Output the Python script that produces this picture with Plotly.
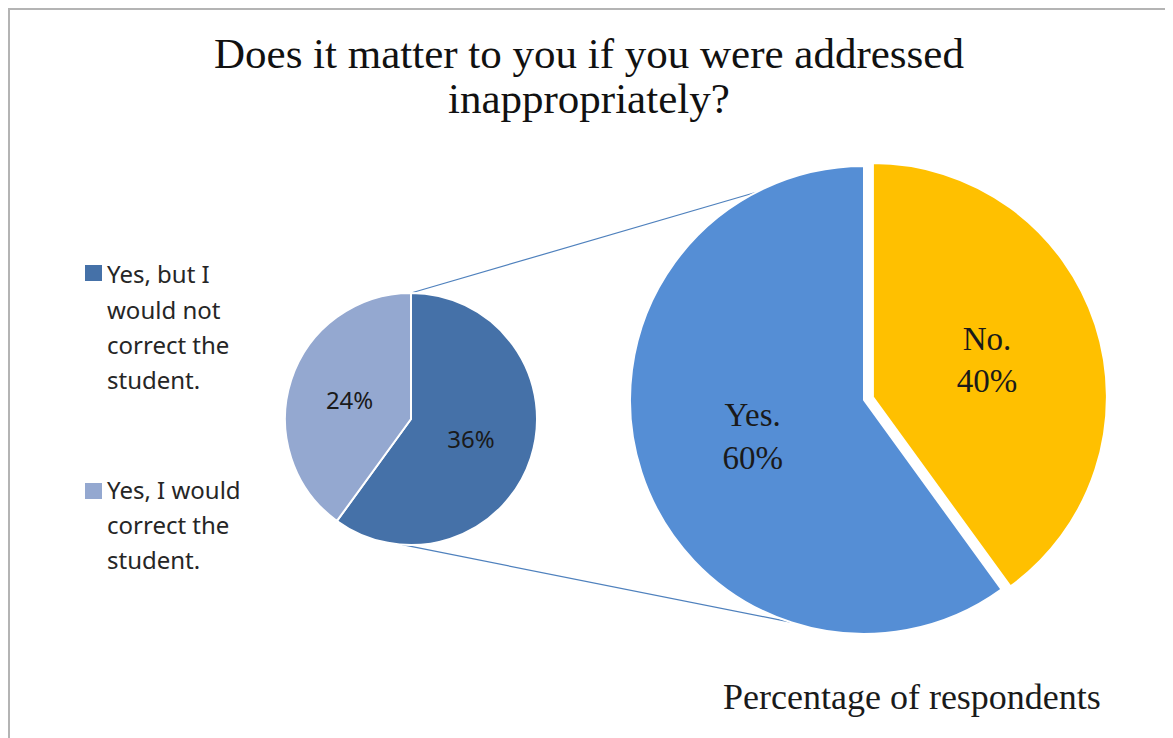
import math
import plotly.graph_objects as go

# page body has an 8px margin: the figure is sized to the visible area and
# every reference pixel position is shifted by that offset
OFF = 8
W, H = 1173 - OFF, 738 - OFF

# ---- data ----
main_labels = ["No.", "Yes."]
main_values = [40, 60]
main_colors = ["#FFC000", "#558ED5"]
main_pull = [0.04, 0]

sub_labels = ["Yes, but I would not correct the student.", "Yes, I would correct the student."]
sub_legend_lines = [["Yes, but I", "would not", "correct the", "student."],
                    ["Yes, I would", "correct the", "student."]]
sub_values = [36, 24]
sub_colors = ["#4571A8", "#94A8D0"]

title_lines = ["Does it matter to you if you were addressed", "inappropriately?"]
footer_text = "Percentage of respondents"

# ---- layout geometry (reference pixels) ----
BX, BY, BR = 864, 400, 234     # big pie centre / radius
SX, SY, SR = 411, 419, 126     # small pie centre / radius


def px(x):
    return (x - OFF) / W


def py(y):
    return 1 - (y - OFF) / H


def domain(cx, cy, r):
    return dict(x=[px(cx - r), px(cx + r)], y=[py(cy + r), py(cy - r)])


maxpull = max(main_pull)
fig = go.Figure()

fig.add_trace(go.Pie(
    labels=main_labels, values=main_values, sort=False,
    direction="clockwise", rotation=0,
    pull=main_pull,
    marker=dict(colors=main_colors, line=dict(color="white", width=2)),
    texttemplate="%{label}<br>%{value}%", textposition="inside",
    insidetextorientation="horizontal",
    textfont=dict(family="Liberation Serif", size=33, color="#1a1a1a"),
    domain=domain(BX, BY, BR * (1 + maxpull)),
    showlegend=False, hoverinfo="label+percent",
))

fig.add_trace(go.Pie(
    labels=sub_labels, values=sub_values, sort=False,
    direction="clockwise", rotation=0,
    marker=dict(colors=sub_colors, line=dict(color="white", width=2)),
    texttemplate="%{value}%", textposition="inside",
    insidetextorientation="horizontal",
    textfont=dict(family="Noto Sans", size=24, color="#1a1a1a"),
    domain=domain(SX, SY, SR),
    showlegend=False, hoverinfo="label+value",
))

shapes = []
annotations = []
# frame
frame_col = "#B4B4B4"
shapes.append(dict(type="line", xref="paper", yref="paper", x0=px(9), x1=px(9), y0=py(8), y1=py(738), line=dict(color=frame_col, width=2)))
shapes.append(dict(type="line", xref="paper", yref="paper", x0=px(8), x1=px(1172), y0=py(9), y1=py(9), line=dict(color=frame_col, width=2)))
shapes.append(dict(type="line", xref="paper", yref="paper", x0=px(1171), x1=px(1171), y0=py(8), y1=py(738), line=dict(color=frame_col, width=1.5)))

# connector lines (small pie top/bottom -> big pie rim)
conn_col = "#4F81BD"
a_up, a_low = math.radians(27.4), math.radians(161.7)
s_low = math.radians(184)
p1 = (SX, SY - SR)
q1 = (BX - BR * math.sin(a_up), BY - BR * math.cos(a_up))
p2 = (SX + SR * math.sin(s_low), SY - SR * math.cos(s_low))
q2 = (BX - BR * math.sin(a_low), BY - BR * math.cos(a_low))
for p, q in [(p1, q1), (p2, q2)]:
    shapes.append(dict(type="line", xref="paper", yref="paper",
                       x0=px(p[0]), y0=py(p[1]), x1=px(q[0]), y1=py(q[1]),
                       line=dict(color=conn_col, width=1.2), layer="below"))

# manual legend
legend_sq_top = [265, 483]
legend_first_baseline = [282, 497]
legend_line_gap = 35
for i in range(len(sub_labels)):
    t = legend_sq_top[i]
    shapes.append(dict(type="rect", xref="paper", yref="paper",
                       x0=px(85), x1=px(102), y0=py(t + 16), y1=py(t),
                       fillcolor=sub_colors[i], line=dict(width=0)))
    for j, line in enumerate(sub_legend_lines[i]):
        base = legend_first_baseline[i] + j * legend_line_gap
        annotations.append(dict(xref="paper", yref="paper", x=px(105), y=py(base - 8),
                                xanchor="left", yanchor="middle", align="left", showarrow=False,
                                text=line,
                                font=dict(family="Noto Sans", size=24, color="#262626")))

# title
title_baselines = [67, 113]
for line, base in zip(title_lines, title_baselines):
    annotations.append(dict(xref="paper", yref="paper", x=px(589), y=py(base - 14),
                            xanchor="center", yanchor="middle", showarrow=False,
                            text=line,
                            font=dict(family="Liberation Serif", size=43, color="#111111")))

annotations.append(dict(xref="paper", yref="paper", x=px(721), y=py(697),
                        xanchor="left", yanchor="middle", showarrow=False,
                        text=footer_text,
                        font=dict(family="Liberation Serif", size=36, color="#1a1a1a")))

fig.update_layout(
    width=W, height=H,
    margin=dict(l=0, r=0, t=0, b=0),
    paper_bgcolor="white", plot_bgcolor="white",
    shapes=shapes, annotations=annotations,
)

fig.write_html("out.html")
